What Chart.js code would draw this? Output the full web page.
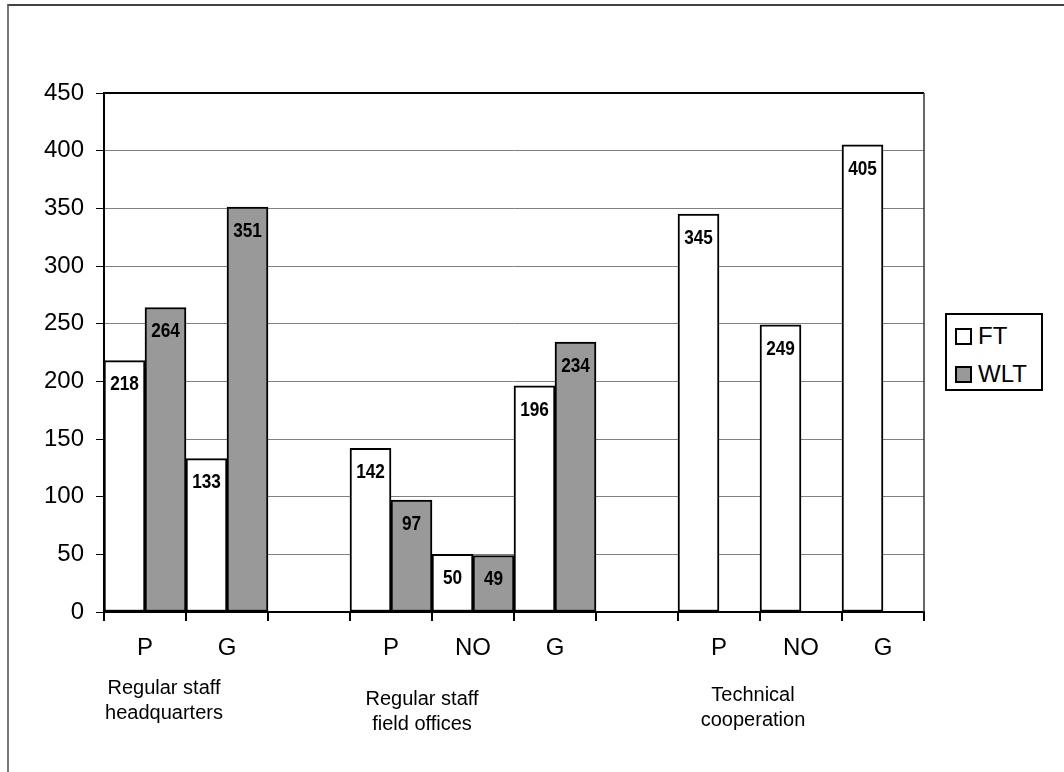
<!DOCTYPE html>
<html>
<head>
<meta charset="utf-8">
<script src="https://cdn.jsdelivr.net/npm/chart.js@4"></script>
<style>
  html, body { margin: 0; padding: 0; background: #fff; }
  #wrap { position: relative; width: 1064px; height: 772px; overflow: hidden; }
  #frame { position: absolute; left: 7px; top: 4px; width: 1100px; height: 800px;
           border-top: 2px solid #444; border-left: 2px solid #777; box-sizing: border-box; }
  canvas { position: absolute; left: 0; top: 0; }
  #legend { position: absolute; left: 945px; top: 313px; width: 98px; height: 78px;
            border: 2px solid #000; box-sizing: border-box; background: #fff;
            font-family: "Liberation Sans", Arial, sans-serif; font-size: 24px; color: #000; }
  .item { position: absolute; left: 8px; height: 24px; line-height: 24px; white-space: nowrap; }
  .sw { display: inline-block; width: 13px; height: 13px; border: 2px solid #000; vertical-align: top; margin-top: 4px; margin-right: 6px; }
</style>
</head>
<body>
<div id="wrap">
  <div id="frame"></div>
  <canvas id="c" width="1064" height="772"></canvas>
  <div id="legend">
    <div class="item" style="top:9px"><span class="sw" style="background:#fff"></span>FT</div>
    <div class="item" style="top:47px"><span class="sw" style="background:#999"></span>WLT</div>
  </div>
</div>
<script>
// ---- data ----
const categories = ['P', 'G', '', 'P', 'NO', 'G', '', 'P', 'NO', 'G'];
const ftValues  = [218, 133, null, 142, 50, 196, null, 345, 249, 405];
const wltValues = [264, 351, null, 97, 49, 234, null, null, null, null];
const seriesNames = ['FT', 'WLT'];
const groupLabels = [
  ['Regular staff', 'headquarters'],
  ['Regular staff', 'field offices'],
  ['Technical', 'cooperation']
];
const yTicks = [0, 50, 100, 150, 200, 250, 300, 350, 400, 450];

const FONT = '"Liberation Sans", Arial, sans-serif';

const plotFrame = {
  id: 'plotFrame',
  afterDatasetsDraw(chart) {
    const { ctx, chartArea: a } = chart;
    ctx.save();
    ctx.strokeStyle = '#000';
    ctx.lineWidth = 2;
    ctx.beginPath();
    ctx.moveTo(a.left, a.top);
    ctx.lineTo(a.right, a.top);
    ctx.stroke();
    ctx.strokeStyle = '#333';
    ctx.lineWidth = 1.5;
    ctx.beginPath();
    ctx.moveTo(a.right, a.top);
    ctx.lineTo(a.right, a.bottom);
    ctx.stroke();
    ctx.restore();
  }
};

const barLabels = {
  id: 'barLabels',
  afterDatasetsDraw(chart) {
    const ctx = chart.ctx;
    ctx.save();
    ctx.font = 'bold 21px "Liberation Sans Narrow", monospace';
    const w1 = ctx.measureText('0123456789').width;
    ctx.font = 'bold 21px monospace';
    const w2 = ctx.measureText('0123456789').width;
    const hasNarrow = Math.abs(w1 - w2) > 0.5;
    ctx.font = hasNarrow ? 'bold 21px "Liberation Sans Narrow"' : 'bold 21px ' + FONT;
    ctx.fillStyle = '#000';
    ctx.textAlign = 'center';
    ctx.textBaseline = 'middle';
    chart.data.datasets.forEach((ds, di) => {
      const meta = chart.getDatasetMeta(di);
      meta.data.forEach((bar, i) => {
        const v = ds.data[i];
        if (v === null || v === undefined) return;
        const x = bar.x, y = bar.y + 24;
        ctx.save();
        ctx.translate(x, y);
        if (!hasNarrow) ctx.scale(0.82, 1);
        ctx.fillText(String(v), 0, 0);
        ctx.restore();
      });
    });
    ctx.restore();
  }
};

const groupText = {
  id: 'groupText',
  afterDraw(chart) {
    const ctx = chart.ctx;
    const xs = chart.scales.x;
    const pos = [
      { x: xs.getPixelForValue(0) + 19, y: 688 },
      { x: xs.getPixelForValue(3) + 31, y: 699 },
      { x: xs.getPixelForValue(7) + 34, y: 695 }
    ];
    ctx.save();
    ctx.font = '20px ' + FONT;
    ctx.fillStyle = '#000';
    ctx.textAlign = 'center';
    ctx.textBaseline = 'middle';
    groupLabels.forEach((lines, gi) => {
      lines.forEach((t, li) => ctx.fillText(t, pos[gi].x, pos[gi].y + li * 25));
    });
    ctx.restore();
  }
};

new Chart(document.getElementById('c'), {
  type: 'bar',
  data: {
    labels: categories,
    datasets: [
      { label: seriesNames[0], data: ftValues, backgroundColor: '#ffffff', borderColor: '#000', borderWidth: 2, borderSkipped: false },
      { label: seriesNames[1], data: wltValues, backgroundColor: '#999999', borderColor: '#000', borderWidth: 2, borderSkipped: false }
    ]
  },
  options: {
    responsive: false,
    animation: false,
    devicePixelRatio: 1,
    layout: { padding: { top: 93, right: 140, left: 0, bottom: 0 } },
    datasets: { bar: { categoryPercentage: 1.0, barPercentage: 1.0 } },
    plugins: { legend: { display: false }, tooltip: { enabled: false } },
    scales: {
      x: {
        offset: true,
        grid: { display: true, drawOnChartArea: false, offset: true, tickLength: 9, tickColor: '#000', lineWidth: 2 },
        border: { display: true, color: '#000', width: 2 },
        ticks: { font: { family: FONT, size: 24 }, color: '#000', padding: 13, maxRotation: 0, autoSkip: false },
        afterFit(scale) { scale.height = 160; }
      },
      y: {
        min: 0, max: 450,
        afterBuildTicks(scale) { scale.ticks = yTicks.map(v => ({ value: v })); },
        grid: { color: '#808080', lineWidth: 1, tickColor: '#000', tickLength: 8 },
        border: { display: true, color: '#000', width: 2 },
        ticks: { font: { family: FONT, size: 24 }, color: '#000', padding: 12 },
        afterFit(scale) { scale.width = 104; }
      }
    }
  },
  plugins: [plotFrame, barLabels, groupText]
});
</script>
</body>
</html>
